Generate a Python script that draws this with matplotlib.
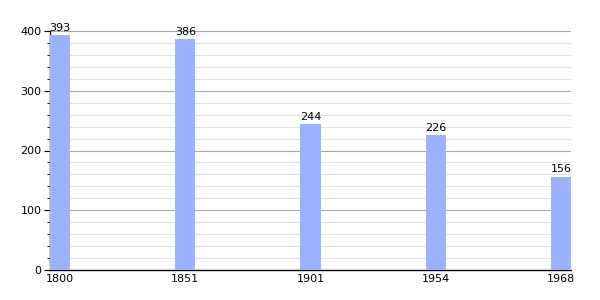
import matplotlib.pyplot as plt
import numpy as np
from matplotlib.ticker import MultipleLocator

years = ["1800", "1851", "1901", "1954", "1968"]
population = [393, 386, 244, 226, 156]

BAR_COLOR = "#99b3ff"

fig = plt.figure(figsize=(6, 3), dpi=100)
ax = fig.add_axes([50 / 600, 30 / 300, 521 / 600, 239 / 300])

x = np.arange(len(years))
width = 0.16
ax.bar(x, population, width=width, align="edge", color=BAR_COLOR, zorder=3)

# value labels above each bar
for xi, v in zip(x, population):
    ax.text(xi + width / 2, v + 4, str(v), ha="center", va="bottom", fontsize=8, zorder=4)

ax.set_xlim(0, len(years) - 1 + width)
ax.set_ylim(0, 400)
ax.set_xticks(x + width / 2)
ax.set_xticklabels(years, fontsize=8)
ax.tick_params(axis="x", length=0, pad=3)

ax.yaxis.set_major_locator(MultipleLocator(100))
ax.yaxis.set_minor_locator(MultipleLocator(20))
ax.tick_params(axis="y", which="major", length=4, labelsize=8, pad=2)
ax.tick_params(axis="y", which="minor", length=2)

ax.grid(axis="y", which="major", color="#a8a8a8", linewidth=0.8, zorder=1)
ax.grid(axis="y", which="minor", color="#e2e2e2", linewidth=0.8, zorder=0)

for side in ["top", "right"]:
    ax.spines[side].set_visible(False)
ax.spines["left"].set_linewidth(1)
ax.spines["bottom"].set_linewidth(1)

fig.savefig("out.png", dpi=100)
